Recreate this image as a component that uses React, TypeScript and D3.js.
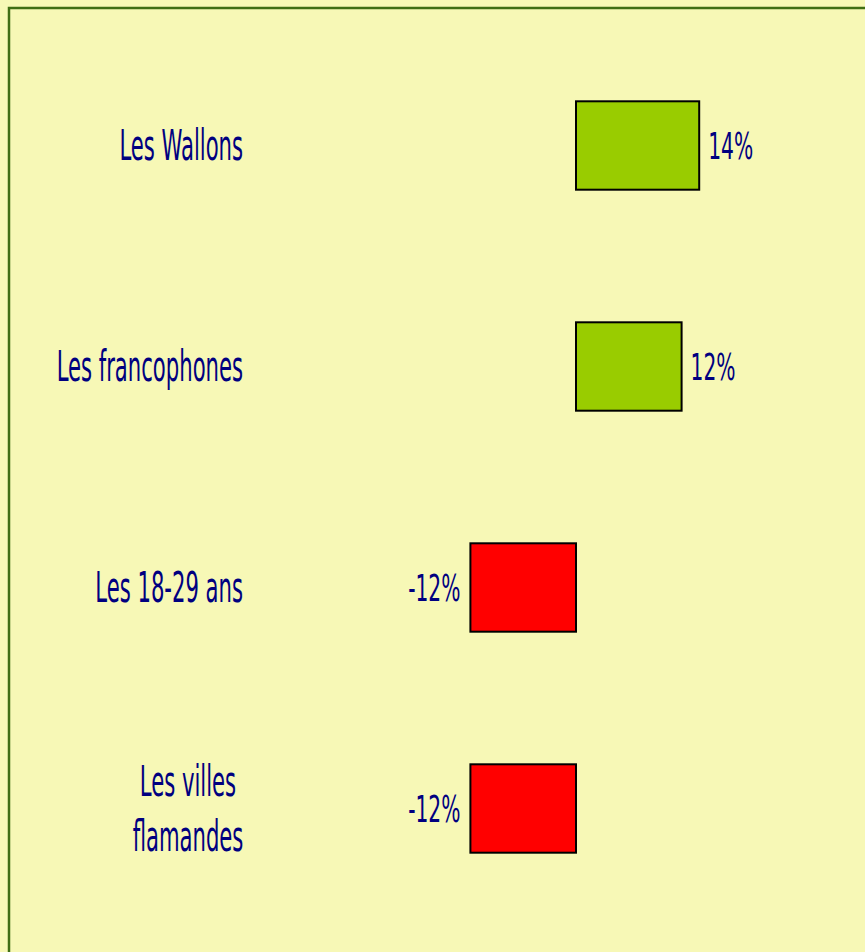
import React from "react";
import * as d3 from "d3";

const categories = ["Les Wallons", "Les francophones", "Les 18-29 ans", "Les villes\nflamandes"];
const values = [14, 12, -12, -12];
const valueLabels = ["14%", "12%", "-12%", "-12%"];

const W = 865;
const H = 952;
const BG = "#F7F8B6";
const NAVY = "#000080";
const FONT = "'DejaVu Sans Condensed', 'DejaVu Sans', sans-serif";

export default function App() {
  const x = d3.scaleLinear().domain([-30, 30]).range([312, 840]);
  const y = d3.scaleBand<string>().domain(categories).range([35, 919]).paddingInner(0.6).paddingOuter(0.3);
  const bw = y.bandwidth();
  const labelRight = 243;
  const labelCenter = 188;
  const labelScale = 0.56;
  const valueScale = 0.6;

  return (
    <svg width={W} height={H} style={{ position: "fixed", left: 0, top: 0, display: "block" }}>
      <rect x={0} y={0} width={W} height={H} fill={BG} />
      <rect x={9} y={8} width={W + 40} height={H + 40} fill="none" stroke="#3F6E14" strokeWidth={2.5} />
      {categories.map((c, i) => {
        const v = values[i];
        const y0 = y(c) as number;
        const cy = y0 + bw / 2;
        const x0 = x(Math.min(0, v));
        const x1 = x(Math.max(0, v));
        const lines = c.split("\n");
        const n = lines.length;
        return (
          <g key={c}>
            <rect x={x0} y={y0} width={x1 - x0} height={bw} fill={v >= 0 ? "#99CC00" : "#FF0000"} stroke="#000" strokeWidth={2} />
            {lines.map((ln, j) => {
              const by = cy + 14.5 + (j - (n - 1) / 2) * 55;
              const lx = n > 1 ? labelCenter : labelRight;
              return (
                <text
                  key={j}
                  transform={`translate(${lx},${by}) scale(${labelScale},1)`}
                  textAnchor={n > 1 ? "middle" : "end"}
                  fontFamily={FONT}
                  fontSize={42}
                  fill={NAVY}
                >
                  {ln}
                </text>
              );
            })}
            <text
              transform={`translate(${v >= 0 ? x1 + 9 : x0 - 10},${cy + 13}) scale(${valueScale},1)`}
              textAnchor={v >= 0 ? "start" : "end"}
              fontFamily={FONT}
              fontSize={37.5}
              fill={NAVY}
            >
              {valueLabels[i]}
            </text>
          </g>
        );
      })}
    </svg>
  );
}
